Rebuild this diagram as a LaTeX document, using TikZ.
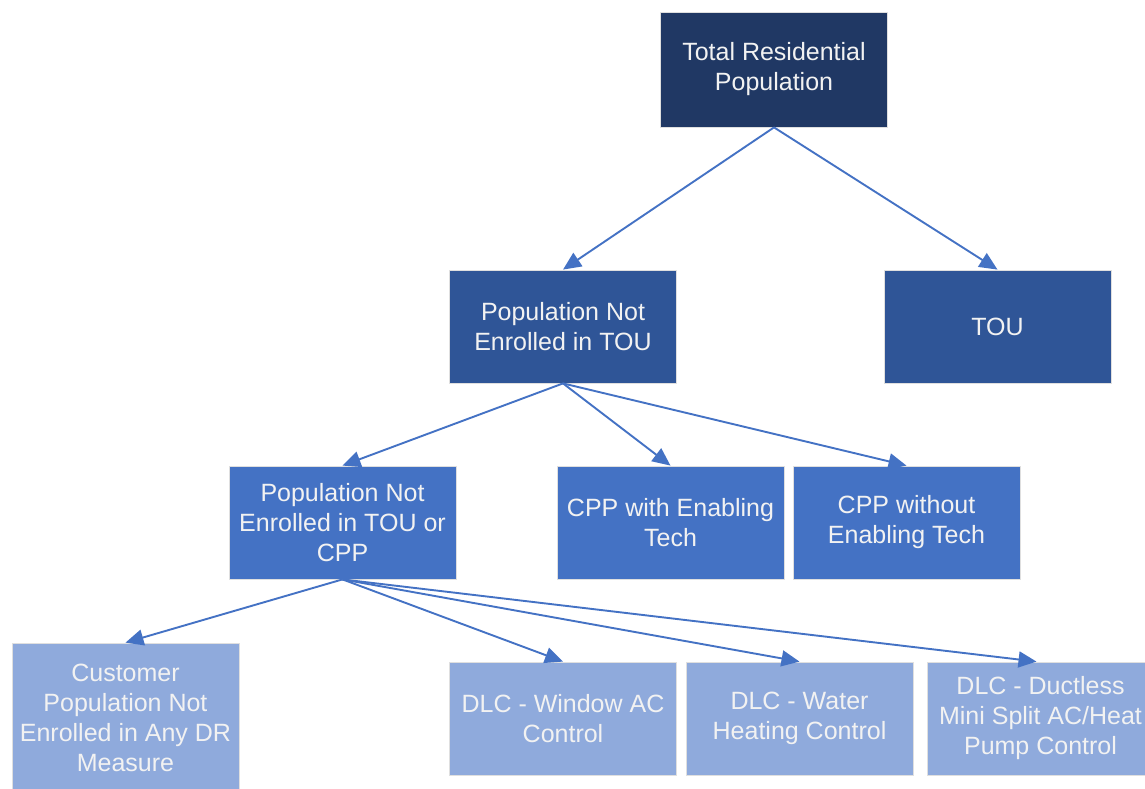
\documentclass[tikz,border=0pt]{standalone}
\usepackage{fontspec}
\setmainfont{Liberation Sans}
\usetikzlibrary{arrows.meta}
\definecolor{lvlA}{HTML}{203864}
\definecolor{lvlB}{HTML}{2F5597}
\definecolor{lvlC}{HTML}{4472C4}
\definecolor{lvlD}{HTML}{8FAADC}
\definecolor{linkcol}{HTML}{4472C4}
\tikzset{
  box/.style={rectangle, minimum width=227pt, minimum height=113pt, inner sep=0pt,
    draw=gray!25, line width=0.8pt, text=white!95!black, align=center,
    font=\fontsize{25}{30}\selectfont},
  link/.style={draw=linkcol, line width=1.9pt,
    -{Triangle[length=18pt,width=16pt]}}
}
\begin{document}
\begin{tikzpicture}[x=1pt,y=-1pt]
\useasboundingbox (0,0) rectangle (1145,789);
\clip (0,0) rectangle (1145,789);
% level 1
\node[box, fill=lvlA, minimum height=115pt] (total) at (774,69.5) {Total Residential\\Population};
% level 2
\node[box, fill=lvlB] (nottou) at (563,326.5) {Population Not\\Enrolled in TOU};
\node[box, fill=lvlB] (tou) at (997.5,326.5) {TOU};
% level 3
\node[box, fill=lvlC] (notcpp) at (342.5,522.5) {Population Not\\Enrolled in TOU or\\CPP};
\node[box, fill=lvlC] (cppwith) at (670.5,522.5) {CPP with Enabling\\Tech};
\node[box, fill=lvlC] (cppwithout) at (906.5,522.5) {CPP without\\Enabling Tech};
% level 4
\node[box, fill=lvlD, minimum height=150pt] (nodr) at (125.5,718) {Customer\\Population Not\\Enrolled in Any DR\\Measure};
\node[box, fill=lvlD] (window) at (563,718.5) {DLC - Window AC\\Control};
\node[box, fill=lvlD] (water) at (799.5,718.5) {DLC - Water\\Heating Control};
\node[box, fill=lvlD] (ductless) at (1040.5,718.5) {DLC - Ductless\\Mini Split AC/Heat\\Pump Control};
% connectors
\draw[link] (total.south) -- (nottou.north);
\draw[link] (total.south) -- (tou.north);
\draw[link] (nottou.south) -- (notcpp.north);
\draw[link] (nottou.south) -- (cppwith.north);
\draw[link] (nottou.south) -- (cppwithout.north);
\draw[link] (notcpp.south) -- (nodr.north);
\draw[link] (notcpp.south) -- (window.north);
\draw[link] (notcpp.south) -- (water.north);
\draw[link] (notcpp.south) -- ([xshift=-4pt]ductless.north);
\end{tikzpicture}
\end{document}
